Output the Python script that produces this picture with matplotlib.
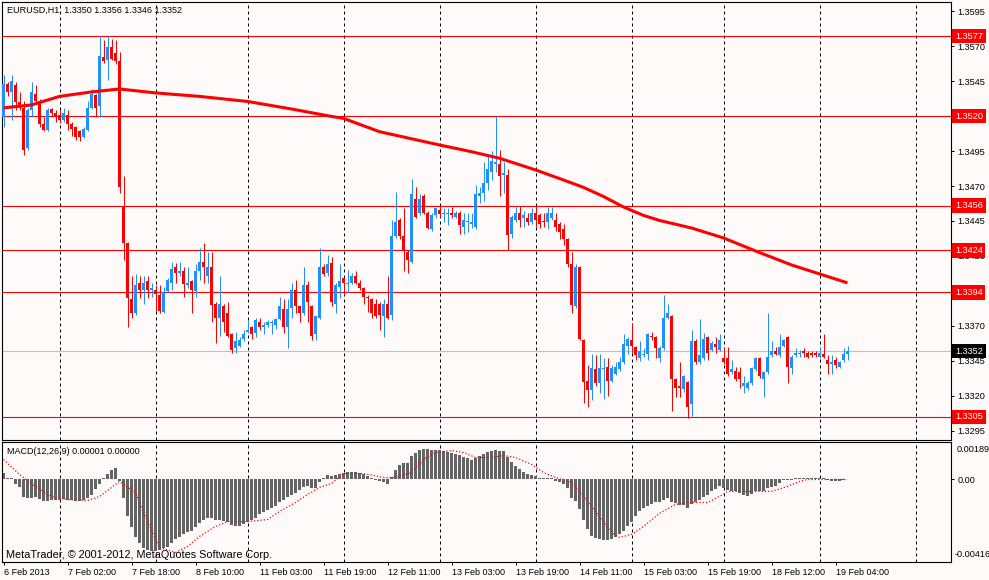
import numpy as np
import matplotlib
matplotlib.use('Agg')
import matplotlib.pyplot as plt

plt.rcParams['font.family'] = ['Liberation Sans', 'DejaVu Sans']
plt.rcParams['font.size'] = 6.5

BG = '#FFFAFA'
BULL = '#1E90FF'
BEAR = '#FF0000'

## EURUSD H1, 6 Feb 2013 10:00 .. 19 Feb 2013 07:00 (one entry per bar)
opens = [
1.3519,1.3543,1.3537,1.3542,1.3530,1.3526,1.3497,1.3524,1.3536,1.3531,
1.3514,1.3510,1.3525,1.3522,1.3521,1.3517,1.3521,1.3514,1.3512,1.3509,
1.3505,1.3510,1.3526,1.3535,1.3527,1.3562,1.3560,1.3569,1.3565,1.3559,
1.3456,1.3429,1.3389,1.3379,1.3401,1.3396,1.3402,1.3396,1.3396,1.3392,
1.3380,1.3395,1.3401,1.3412,1.3408,1.3409,1.3399,1.3402,1.3395,1.3409,
1.3416,1.3406,1.3412,1.3386,1.3376,1.3384,1.3379,1.3364,1.3354,1.3356,
1.3361,1.3366,1.3369,1.3365,1.3373,1.3369,1.3371,1.3372,1.3371,1.3375,
1.3382,1.3369,1.3383,1.3396,1.3384,1.3379,1.3399,1.3384,1.3364,1.3376,
1.3412,1.3408,1.3415,1.3386,1.3398,1.3404,1.3400,1.3401,1.3406,1.3401,
1.3397,1.3391,1.3389,1.3386,1.3386,1.3377,1.3386,1.3378,1.3434,1.3446,
1.3434,1.3423,1.3416,1.3461,1.3451,1.3463,1.3451,1.3439,1.3449,1.3453,
1.3450,1.3450,1.3451,1.3448,1.3451,1.3441,1.3444,1.3443,1.3441,1.3463,
1.3465,1.3472,1.3480,1.3486,1.3486,1.3478,1.3478,1.3436,1.3446,1.3451,
1.3447,1.3447,1.3444,1.3451,1.3449,1.3445,1.3444,1.3447,1.3446,1.3443,
1.3439,1.3432,1.3414,1.3384,1.3412,1.3360,1.3331,1.3324,1.3339,1.3329,
1.3339,1.3341,1.3331,1.3336,1.3339,1.3344,1.3356,1.3360,1.3355,1.3347,
1.3349,1.3350,1.3363,1.3362,1.3347,1.3354,1.3376,1.3377,1.3332,1.3327,
1.3325,1.3330,1.3314,1.3359,1.3344,1.3347,1.3362,1.3353,1.3357,1.3353,
1.3347,1.3347,1.3337,1.3338,1.3337,1.3327,1.3326,1.3329,1.3339,1.3347,
1.3332,1.3337,1.3349,1.3352,1.3349,1.3356,1.3362,1.3340,1.3349,1.3350,
1.3352,1.3351,1.3351,1.3351,1.3348,1.3350,1.3346,1.3343,1.3346,1.3341,
1.3346,1.3350]
highs = [
1.3549,1.3544,1.3549,1.3544,1.3537,1.3531,1.3526,1.3544,1.3542,1.3532,
1.3519,1.3526,1.3526,1.3524,1.3524,1.3526,1.3524,1.3516,1.3513,1.3510,
1.3512,1.3531,1.3539,1.3536,1.3577,1.3574,1.3577,1.3575,1.3574,1.3566,
1.3477,1.3430,1.3406,1.3407,1.3406,1.3406,1.3406,1.3401,1.3399,1.3399,
1.3398,1.3404,1.3416,1.3415,1.3416,1.3412,1.3412,1.3403,1.3414,1.3426,
1.3429,1.3423,1.3423,1.3387,1.3406,1.3386,1.3387,1.3365,1.3366,1.3362,
1.3367,1.3374,1.3370,1.3376,1.3376,1.3373,1.3374,1.3374,1.3376,1.3391,
1.3389,1.3389,1.3401,1.3403,1.3385,1.3412,1.3402,1.3385,1.3377,1.3426,
1.3414,1.3421,1.3419,1.3401,1.3414,1.3405,1.3410,1.3408,1.3409,1.3403,
1.3398,1.3392,1.3390,1.3389,1.3387,1.3389,1.3406,1.3446,1.3466,1.3447,
1.3454,1.3424,1.3475,1.3469,1.3464,1.3464,1.3452,1.3451,1.3455,1.3456,
1.3454,1.3454,1.3455,1.3452,1.3452,1.3451,1.3451,1.3451,1.3471,1.3469,
1.3487,1.3493,1.3495,1.3520,1.3496,1.3487,1.3482,1.3449,1.3456,1.3456,
1.3452,1.3451,1.3454,1.3456,1.3451,1.3451,1.3455,1.3455,1.3451,1.3444,
1.3443,1.3433,1.3423,1.3414,1.3413,1.3361,1.3342,1.3350,1.3349,1.3350,
1.3347,1.3347,1.3342,1.3344,1.3348,1.3364,1.3362,1.3372,1.3356,1.3359,
1.3354,1.3365,1.3366,1.3363,1.3356,1.3392,1.3386,1.3378,1.3333,1.3344,
1.3335,1.3331,1.3367,1.3361,1.3375,1.3365,1.3363,1.3359,1.3362,1.3364,
1.3355,1.3355,1.3346,1.3341,1.3341,1.3334,1.3331,1.3341,1.3348,1.3348,
1.3338,1.3379,1.3359,1.3355,1.3364,1.3361,1.3363,1.3349,1.3354,1.3353,
1.3354,1.3352,1.3352,1.3352,1.3355,1.3364,1.3349,1.3349,1.3348,1.3345,
1.3354,1.3356]
lows = [
1.3512,1.3534,1.3517,1.3524,1.3524,1.3492,1.3496,1.3519,1.3530,1.3512,
1.3509,1.3509,1.3519,1.3516,1.3515,1.3516,1.3510,1.3506,1.3503,1.3502,
1.3504,1.3509,1.3525,1.3519,1.3519,1.3558,1.3546,1.3560,1.3557,1.3465,
1.3417,1.3369,1.3376,1.3378,1.3390,1.3386,1.3390,1.3391,1.3381,1.3379,
1.3379,1.3394,1.3396,1.3401,1.3406,1.3391,1.3397,1.3379,1.3391,1.3403,
1.3401,1.3401,1.3373,1.3358,1.3363,1.3366,1.3362,1.3351,1.3351,1.3355,
1.3359,1.3365,1.3361,1.3362,1.3367,1.3364,1.3369,1.3364,1.3368,1.3374,
1.3365,1.3354,1.3376,1.3379,1.3373,1.3378,1.3373,1.3360,1.3360,1.3375,
1.3406,1.3406,1.3384,1.3379,1.3390,1.3392,1.3394,1.3400,1.3400,1.3396,
1.3386,1.3380,1.3376,1.3376,1.3367,1.3362,1.3375,1.3374,1.3433,1.3432,
1.3409,1.3408,1.3415,1.3447,1.3449,1.3450,1.3439,1.3438,1.3447,1.3448,
1.3444,1.3442,1.3447,1.3447,1.3436,1.3436,1.3437,1.3440,1.3439,1.3458,
1.3459,1.3467,1.3474,1.3480,1.3463,1.3465,1.3424,1.3433,1.3444,1.3441,
1.3441,1.3442,1.3443,1.3441,1.3440,1.3441,1.3439,1.3446,1.3438,1.3432,
1.3428,1.3412,1.3379,1.3383,1.3360,1.3315,1.3312,1.3317,1.3327,1.3322,
1.3318,1.3320,1.3330,1.3335,1.3338,1.3343,1.3350,1.3351,1.3346,1.3345,
1.3348,1.3346,1.3360,1.3347,1.3344,1.3353,1.3375,1.3309,1.3319,1.3319,
1.3323,1.3304,1.3306,1.3343,1.3343,1.3346,1.3346,1.3352,1.3351,1.3352,
1.3343,1.3334,1.3336,1.3331,1.3326,1.3322,1.3324,1.3328,1.3338,1.3333,
1.3319,1.3336,1.3348,1.3349,1.3348,1.3355,1.3329,1.3336,1.3348,1.3348,
1.3348,1.3347,1.3348,1.3348,1.3347,1.3347,1.3336,1.3336,1.3340,1.3340,
1.3344,1.3346]
closes = [
1.3543,1.3537,1.3545,1.3530,1.3526,1.3496,1.3524,1.3537,1.3531,1.3514,
1.3510,1.3524,1.3522,1.3519,1.3517,1.3522,1.3514,1.3511,1.3505,1.3505,
1.3511,1.3526,1.3536,1.3526,1.3563,1.3559,1.3569,1.3561,1.3559,1.3469,
1.3429,1.3390,1.3379,1.3399,1.3396,1.3401,1.3396,1.3397,1.3393,1.3381,
1.3394,1.3403,1.3411,1.3408,1.3409,1.3400,1.3401,1.3396,1.3409,1.3416,
1.3412,1.3412,1.3385,1.3376,1.3386,1.3373,1.3363,1.3353,1.3359,1.3360,
1.3364,1.3367,1.3364,1.3374,1.3369,1.3371,1.3373,1.3373,1.3375,1.3384,
1.3369,1.3382,1.3396,1.3384,1.3379,1.3399,1.3387,1.3363,1.3377,1.3412,
1.3407,1.3414,1.3387,1.3399,1.3402,1.3401,1.3401,1.3406,1.3401,1.3397,
1.3391,1.3390,1.3379,1.3377,1.3378,1.3386,1.3376,1.3434,1.3444,1.3434,
1.3424,1.3417,1.3464,1.3448,1.3461,1.3451,1.3440,1.3449,1.3454,1.3450,
1.3451,1.3451,1.3449,1.3451,1.3442,1.3446,1.3445,1.3444,1.3464,1.3465,
1.3472,1.3482,1.3488,1.3487,1.3477,1.3479,1.3435,1.3448,1.3451,1.3446,
1.3449,1.3444,1.3451,1.3446,1.3443,1.3444,1.3451,1.3451,1.3441,1.3437,
1.3432,1.3414,1.3385,1.3412,1.3361,1.3330,1.3324,1.3340,1.3329,1.3340,
1.3340,1.3331,1.3340,1.3341,1.3344,1.3357,1.3361,1.3356,1.3349,1.3352,
1.3350,1.3364,1.3362,1.3354,1.3354,1.3376,1.3379,1.3332,1.3326,1.3326,
1.3334,1.3312,1.3359,1.3344,1.3349,1.3361,1.3351,1.3358,1.3355,1.3360,
1.3344,1.3336,1.3339,1.3332,1.3332,1.3329,1.3329,1.3340,1.3347,1.3334,
1.3337,1.3348,1.3352,1.3350,1.3355,1.3360,1.3341,1.3348,1.3351,1.3351,
1.3351,1.3348,1.3349,1.3349,1.3351,1.3348,1.3343,1.3344,1.3342,1.3344,
1.3350,1.3352]

## moving average read at a few bars
ma_bars = [0, 7, 14, 22, 29, 38, 49, 61, 72, 82, 85, 94, 109, 117, 124, 133,
           140, 145, 150, 155, 160, 164, 172, 180, 188, 197, 204, 211]
ma_vals = [1.35258, 1.35279, 1.35340, 1.35372, 1.35393, 1.35365, 1.35340, 1.35304,
           1.35250, 1.35197, 1.35183, 1.35088, 1.34993, 1.34945, 1.34898, 1.34815,
           1.34743, 1.34690, 1.34625, 1.34550, 1.34490, 1.34454, 1.34400, 1.34329,
           1.34236, 1.34136, 1.34072, 1.34008]

## MACD(12,26,9) histogram, one value per bar
macd_hist = [
0.00035,0.00010,0.00005,-0.00025,-0.00040,-0.00086,-0.00091,-0.00091,-0.00086,-0.00096,
-0.00106,-0.00106,-0.00101,-0.00101,-0.00101,-0.00096,-0.00101,-0.00101,-0.00106,-0.00106,
-0.00101,-0.00091,-0.00076,-0.00050,-0.00025,0.00005,0.00030,0.00050,0.00060,-0.00010,
-0.00091,-0.00186,-0.00242,-0.00292,-0.00318,-0.00343,-0.00358,-0.00363,-0.00363,-0.00353,
-0.00343,-0.00338,-0.00318,-0.00302,-0.00292,-0.00277,-0.00267,-0.00262,-0.00242,-0.00217,
-0.00202,-0.00192,-0.00192,-0.00202,-0.00202,-0.00207,-0.00212,-0.00227,-0.00232,-0.00232,
-0.00222,-0.00212,-0.00202,-0.00192,-0.00176,-0.00166,-0.00156,-0.00146,-0.00136,-0.00116,
-0.00101,-0.00086,-0.00076,-0.00066,-0.00055,-0.00040,-0.00035,-0.00045,-0.00045,-0.00015,
0.00010,0.00025,0.00020,0.00025,0.00030,0.00035,0.00040,0.00040,0.00040,0.00035,
0.00030,0.00020,0.00010,-0.00005,-0.00010,-0.00015,-0.00025,0.00015,0.00050,0.00071,
0.00081,0.00081,0.00116,0.00136,0.00151,0.00156,0.00156,0.00151,0.00151,0.00151,
0.00146,0.00141,0.00136,0.00131,0.00121,0.00111,0.00106,0.00096,0.00106,0.00116,
0.00131,0.00141,0.00146,0.00151,0.00146,0.00146,0.00111,0.00086,0.00066,0.00055,
0.00040,0.00030,0.00025,0.00020,0.00010,0.00005,0.00005,0.00005,-0.00010,-0.00015,
-0.00025,-0.00045,-0.00091,-0.00106,-0.00151,-0.00202,-0.00252,-0.00287,-0.00297,-0.00302,
-0.00307,-0.00307,-0.00302,-0.00292,-0.00277,-0.00262,-0.00237,-0.00212,-0.00186,-0.00161,
-0.00146,-0.00136,-0.00126,-0.00116,-0.00111,-0.00101,-0.00091,-0.00111,-0.00121,-0.00131,
-0.00131,-0.00146,-0.00126,-0.00111,-0.00101,-0.00086,-0.00076,-0.00060,-0.00050,-0.00035,
-0.00045,-0.00055,-0.00060,-0.00060,-0.00066,-0.00076,-0.00081,-0.00071,-0.00060,-0.00060,
-0.00060,-0.00045,-0.00040,-0.00035,-0.00020,-0.00005,-0.00005,-0.00005,0.00005,0.00005,
0.00005,0.00005,0.00005,0.00005,0.00005,0.00005,-0.00005,-0.00010,-0.00010,-0.00010,
-0.00003,0.00001]

## signal line read at a few bars
sig_bars = [0, 4, 8, 12, 16, 21, 24, 28, 29, 33, 36, 39, 43, 46, 49, 53, 56, 61, 66, 69,
            73, 76, 79, 82, 85, 90, 95, 98, 102, 105, 108, 112, 115, 118, 122, 125, 128,
            132, 135, 138, 142, 145, 148, 152, 154, 157, 160, 164, 168, 171, 176, 179,
            181, 186, 192, 196, 199, 201, 204, 211]
sig_vals = [0.00101, 0.00025, -0.00035, -0.00086, -0.00101, -0.00106, -0.00086, -0.00025,
            -0.00010, -0.00066, -0.00212, -0.00343, -0.00368, -0.00338, -0.00287, -0.00237,
            -0.00212, -0.00212, -0.00202, -0.00161, -0.00116, -0.00076, -0.00040, -0.00020,
            0.00030, 0.00030, 0.00010, 0.00010, 0.00035, 0.00101, 0.00136, 0.00146, 0.00136,
            0.00111, 0.00111, 0.00121, 0.00111, 0.00076, 0.00035, 0.00010, -0.00015, -0.00086,
            -0.00161, -0.00267, -0.00292, -0.00277, -0.00237, -0.00171, -0.00126, -0.00116,
            -0.00116, -0.00086, -0.00060, -0.00060, -0.00060, -0.00035, -0.00010, 0.0, 0.0, 0.0]

levels = [1.3577, 1.3520, 1.3456, 1.3424, 1.3394, 1.3305]
bid = 1.3352
price_ticks = [1.3595, 1.3570, 1.3545, 1.3520, 1.3495, 1.3470, 1.3445,
               1.3420, 1.3395, 1.3370, 1.3345, 1.3320, 1.3295]
day_starts = [14, 38, 61, 85, 109, 133, 157, 180, 204, 228]
date_ticks = [0, 16, 32, 48, 64, 80, 96, 112, 128, 144, 160, 176, 192, 208]
date_labels = ['6 Feb 2013', '7 Feb 02:00', '7 Feb 18:00', '8 Feb 10:00', '11 Feb 03:00',
               '11 Feb 19:00', '12 Feb 11:00', '13 Feb 03:00', '13 Feb 19:00',
               '14 Feb 11:00', '15 Feb 03:00', '15 Feb 19:00', '18 Feb 12:00',
               '19 Feb 04:00']
macd_top, macd_bot = 0.00189, -0.00416

W, H = 989, 580
fig = plt.figure(figsize=(W / 100, H / 100), dpi=100, facecolor=BG)
ax = fig.add_axes([2 / W, 140 / H, 949 / W, 438 / H], facecolor=BG)
ax2 = fig.add_axes([2 / W, 18 / H, 949 / W, 120 / H], facecolor=BG)

x = np.arange(len(opens))
o = np.array(opens)
h = np.array(highs)
l = np.array(lows)
c = np.array(closes)
cols = np.where(c >= o, BULL, BEAR)
doji = np.abs(c - o) < 0.00005

for a in (ax, ax2):
    ## 4 px per bar, bar centres on pixel centres
    a.set_xlim(-0.375, 236.875)
    for d in day_starts:
        a.axvline(d, color='black', lw=0.72, ls=(0, (3, 3)), zorder=0.5)
    for s in a.spines.values():
        s.set_color('black')
        s.set_linewidth(0.8)

##price window
for lv in levels:
    ax.axhline(lv, color=BEAR, lw=0.8, zorder=1)
ax.axhline(bid, color='#C0C0C0', lw=0.8, zorder=1)
ax.vlines(x, l, h, colors=cols, lw=0.72, zorder=2)
ax.bar(x, np.abs(c - o), bottom=np.minimum(o, c), width=0.75, color=cols,
       linewidth=0, zorder=3)
ax.hlines(o[doji], x[doji] - 0.375, x[doji] + 0.375, colors=cols[doji], lw=0.8, zorder=3)
ax.plot(ma_bars, ma_vals, color=BEAR, lw=2.2, solid_capstyle='butt', zorder=4)

ax.set_ylim(1.328857, 1.360143)
ax.set_xticks([])
ax.yaxis.tick_right()
ax.set_yticks(price_ticks)
## labels under the 1.3520 and 1.3394 boxes are hidden in the original
ax.set_yticklabels(['' if t in (1.3520, 1.3395) else '%.4f' % t for t in price_ticks])
ax.tick_params(axis='y', direction='out', length=2.2, width=0.7, pad=2.5,
               labelsize=6.6, colors='black')

ytr = ax.get_yaxis_transform()
for lv in levels:
    ax.text(1.0042, lv, '%.4f' % lv, transform=ytr, color='white', va='center',
            ha='left', fontsize=6.6,
            bbox=dict(boxstyle='square,pad=0.3', fc=BEAR, ec='none'),
            clip_on=False, zorder=6)
ax.text(1.0042, bid, '%.4f' % bid, transform=ytr, color='white', va='center',
        ha='left', fontsize=6.6,
        bbox=dict(boxstyle='square,pad=0.3', fc='black', ec='none'),
        clip_on=False, zorder=6)

ax.text(0.0053, 0.9817, 'EURUSD,H1  %.4f %.4f %.4f %.4f' % (o[-1], h[-1], l[-1], c[-1]),
        transform=ax.transAxes, va='center', ha='left', color='black')

##MACD window
ax2.bar(x, macd_hist, width=0.75, color='#646464', linewidth=0, zorder=2)
ax2.plot(sig_bars, sig_vals, color=BEAR, lw=0.9, ls=(0, (1, 1.6)), zorder=3)
ax2.set_ylim(macd_bot, macd_top)
ax2.yaxis.tick_right()
ax2.set_yticks([0.0])
ax2.set_yticklabels(['0.00'])
ax2.tick_params(axis='y', direction='out', length=2.2, width=0.7, pad=2.5,
                labelsize=6.6, colors='black')
y2tr = ax2.get_yaxis_transform()
ax2.annotate('%.5f' % macd_top, xy=(1, macd_top), xycoords=y2tr, xytext=(4.0, -2.5),
             textcoords='offset points', va='top', ha='left', fontsize=6.6,
             annotation_clip=False)
ax2.annotate('%.5f' % macd_bot, xy=(1, macd_bot), xycoords=y2tr, xytext=(2.6, 2.0),
             textcoords='offset points', va='bottom', ha='left', fontsize=6.6,
             annotation_clip=False)
ax2.set_xticks(date_ticks)
ax2.set_xticklabels(date_labels, ha='left')
ax2.tick_params(axis='x', direction='out', length=2.2, width=0.7, pad=2,
                labelsize=6.5, colors='black')

ax2.text(0.0053, 0.9167, 'MACD(12,26,9) %.5f %.5f' % (0.00001, 0.0),
         transform=ax2.transAxes, va='center', ha='left', color='black')
ax2.text(0.0042, 0.058, 'MetaTrader, \u00a9 2001-2012, MetaQuotes Software Corp.',
         transform=ax2.transAxes, va='center', ha='left', color='black', fontsize=7.8)

fig.savefig('out.png', dpi=100, facecolor=BG)
